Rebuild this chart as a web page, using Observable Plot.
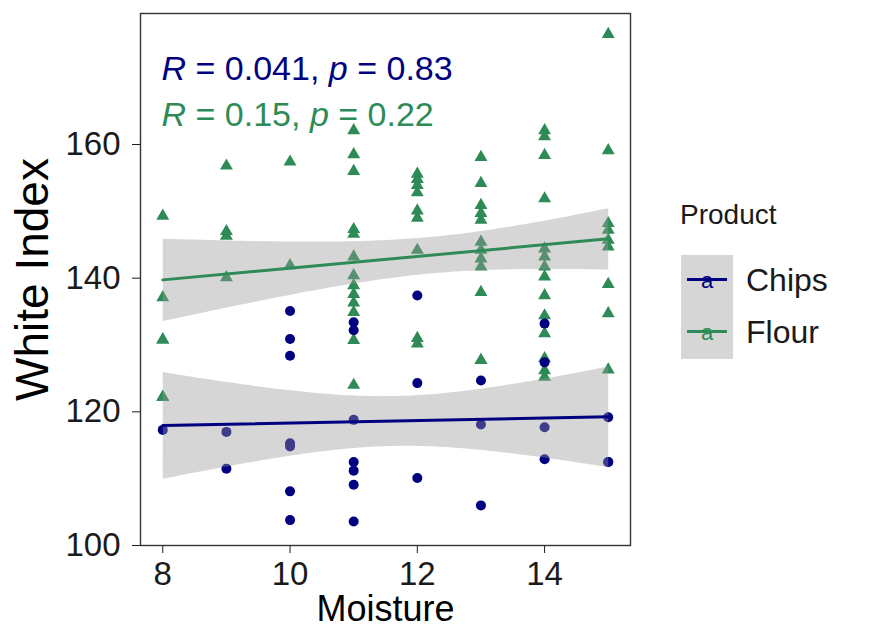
<!DOCTYPE html>
<html>
<head>
<meta charset="utf-8">
<script src="https://cdn.jsdelivr.net/npm/d3@7"></script>
<script src="https://cdn.jsdelivr.net/npm/@observablehq/plot@0.6"></script>
<style>
  body { margin: 0; background: #fff; font-family: "Liberation Sans", Arial, sans-serif; }
  #wrap { position: relative; width: 871px; height: 640px; overflow: hidden; }
  #chart { position: absolute; left: 0; top: 0; }
  .lg { position: absolute; color: #1a1a1a; white-space: nowrap; }
</style>
</head>
<body>
<div id="wrap"><div id="chart"></div></div>
<script>
// ---------------- data ----------------
const products = ["Chips", "Flour"];
const productColors = ["#000080", "#2e8b57"];

const chipsMoisture = [8, 9, 9, 10, 10, 10, 10, 10, 10, 10, 11, 11, 11, 11, 11, 11, 11,
  12, 12, 12, 13, 13, 13, 14, 14, 14, 14, 15, 15, 15];
const chipsWhite = [117.3, 117.0, 111.5, 135.1, 130.9, 128.4, 115.3, 114.8, 108.1, 103.8,
  133.4, 132.2, 118.8, 112.5, 111.2, 109.1, 103.6,
  137.4, 124.3, 110.1, 124.7, 118.1, 106.0, 133.2, 127.4, 117.7, 112.9, 119.2, 112.5, 112.5];

const flourMoisture = [8, 8, 8, 8, 8, 8,
  9, 9, 9, 9,
  10, 10,
  11, 11, 11, 11, 11, 11, 11, 11, 11, 11, 11, 11, 11,
  12, 12, 12, 12, 12, 12, 12, 12, 12,
  13, 13, 13, 13, 13, 13, 13, 13, 13, 13, 13, 13,
  14, 14, 14, 14, 14, 14, 14, 14, 14, 14, 14, 14, 14, 14,
  15, 15, 15, 15, 15, 15, 15, 15, 15];
const flourWhite = [149.3, 137.1, 130.8, 130.8, 122.2, 122.2,
  156.8, 147.0, 146.3, 140.1,
  157.4, 141.9,
  162.1, 158.5, 156.0, 147.3, 146.6, 143.2, 140.4, 138.9, 137.6, 136.3, 134.9, 130.7, 124.0,
  155.6, 154.8, 153.9, 152.8, 150.1, 149.0, 144.2, 131.0, 130.2,
  158.1, 154.2, 150.9, 149.7, 148.7, 145.4, 144.2, 142.9, 141.7, 137.9, 127.7, 127.7,
  162.1, 161.2, 158.4, 151.9, 144.4, 143.2, 141.7, 140.2, 137.4, 134.4, 131.7, 128.0, 126.2, 125.2,
  176.5, 159.1, 148.2, 147.2, 145.7, 144.7, 139.1, 134.7, 126.3];

const corLabels = ["R = 0.041, p = 0.83", "R = 0.15, p = 0.22"];
const xTicks = [8, 10, 12, 14];
const yTicks = [100, 120, 140, 160];
const xTitle = "Moisture";
const yTitle = "White Index";
const legendTitle = "Product";

// ---------------- table ----------------
const chips = chipsMoisture.map((m, i) => ({product: "Chips", moisture: m, white: chipsWhite[i]}));
const flour = flourMoisture.map((m, i) => ({product: "Flour", moisture: m, white: flourWhite[i]}));
const data = [...chips, ...flour];

const FONT = "Liberation Sans, Arial, sans-serif";

const plot = Plot.plot({
  width: 660,
  height: 640,
  marginLeft: 140,
  marginRight: 30,
  marginTop: 13,
  marginBottom: 95,
  style: {fontFamily: FONT, fontSize: "33px", color: "#1a1a1a", background: "white", overflow: "visible"},
  x: {domain: [7.65, 15.35], ticks: xTicks, tickSize: 8, tickPadding: 8, label: null},
  y: {domain: [100, 179.6], ticks: yTicks, tickSize: 8, tickPadding: 12, label: null},
  color: {domain: products, range: productColors},
  marks: [
    Plot.dot(flour, {x: "moisture", y: "white", fill: "product", symbol: "triangle", r: 4.8}),
    Plot.dot(chips, {x: "moisture", y: "white", fill: "product", symbol: "circle", r: 5}),
    Plot.linearRegressionY(data, {x: "moisture", y: "white", z: "product", stroke: "product",
      fill: "#999999", fillOpacity: 0.4, strokeWidth: 3}),
    Plot.frame({stroke: "#333", strokeWidth: 1.4}),
    Plot.text([corLabels[0]], {frameAnchor: "top-left", text: d => d, dx: 21, dy: 66,
      lineAnchor: "bottom", textAnchor: "start", fontSize: 34, fill: productColors[0]}),
    Plot.text([corLabels[1]], {frameAnchor: "top-left", text: d => d, dx: 21, dy: 112,
      lineAnchor: "bottom", textAnchor: "start", fontSize: 34, fill: productColors[1]}),
    Plot.text([xTitle], {frameAnchor: "bottom", text: d => d, dy: 64, lineAnchor: "middle",
      textAnchor: "middle", fontSize: 36, fill: "#000"}),
    Plot.text([yTitle], {frameAnchor: "left", text: d => d, dx: -107, rotate: -90,
      lineAnchor: "middle", textAnchor: "middle", fontSize: 46, fill: "#000"})
  ]
});
document.getElementById("chart").appendChild(plot);

// italic R and p in the correlation labels
d3.select(plot).selectAll("text").each(function() {
  const t = this.textContent;
  const m = /^R = (.*), p = (.*)$/.exec(t);
  if (!m) return;
  const sel = d3.select(this);
  sel.text(null);
  sel.append("tspan").attr("font-style", "italic").text("R");
  sel.append("tspan").text(" = " + m[1] + ", ");
  sel.append("tspan").attr("font-style", "italic").text("p");
  sel.append("tspan").text(" = " + m[2]);
});

// ---------------- legend (HTML, right of plot) ----------------
const wrap = document.getElementById("wrap");
const title = document.createElement("div");
title.className = "lg";
title.textContent = legendTitle;
Object.assign(title.style, {left: "680px", top: "198px", fontSize: "28px", lineHeight: "34px"});
wrap.appendChild(title);

products.forEach((p, i) => {
  const top = 255 + i * 52;
  const key = document.createElement("div");
  Object.assign(key.style, {position: "absolute", left: "681px", top: top + "px", width: "52px", height: "52px", background: "#d6d6d6"});
  const a = document.createElement("div");
  a.textContent = "a";
  Object.assign(a.style, {position: "absolute", left: "0", width: "52px", top: "13px", textAlign: "center",
    fontSize: "22px", lineHeight: "26px", color: productColors[i]});
  key.appendChild(a);
  const line = document.createElement("div");
  Object.assign(line.style, {position: "absolute", left: "6px", width: "40px", top: "23px", height: "3px", background: productColors[i]});
  key.appendChild(line);
  wrap.appendChild(key);

  const lab = document.createElement("div");
  lab.className = "lg";
  lab.textContent = p;
  Object.assign(lab.style, {left: "746px", top: (top + 6) + "px", fontSize: "32px", lineHeight: "38px"});
  wrap.appendChild(lab);
});
</script>
</body>
</html>
